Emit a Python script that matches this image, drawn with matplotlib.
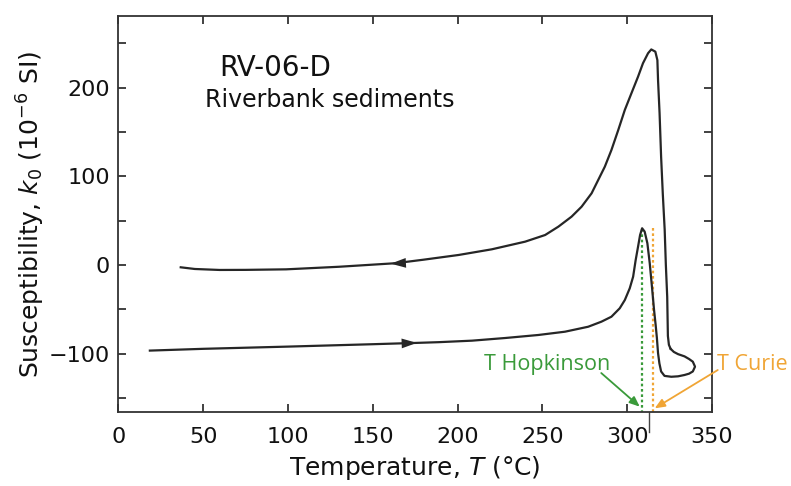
import matplotlib
matplotlib.use("Agg")
import matplotlib.pyplot as plt

# heating run (lower branch, ends after the loop on the right)
heat_T = [18.5, 50, 100, 150, 176, 188.9, 208.5, 228.1, 247.6, 263.3, 277, 284.8,
          290.7, 295.6, 298.6, 301.5, 303.5, 305.0, 306.4, 307.6, 308.8, 310.3,
          311.9, 313.3, 314.6, 315.8, 316.8, 317.5, 318.2, 319.0, 320.0, 322.0,
          326.0, 330.0, 333.8, 336.5, 338.7, 340.0, 338.7, 336.5, 333.8, 330.0,
          327.5, 325.6]
heat_k = [-96.5, -94.5, -92.0, -89.3, -87.8, -87.0, -85.3, -82.3, -78.9, -75.2, -69.6, -63.9,
          -58.3, -48.8, -39.5, -26.3, -13.2, 5.6, 20.6, 33.8, 41.4, 37.6,
          24.5, 1.9, -24.5, -50, -68, -82, -99.5, -111, -120, -125,
          -126, -125.5, -124, -122.5, -120, -114.6, -109, -106, -103, -100.5,
          -98, -94.5]

# cooling run (upper branch)
cool_T = [325.6, 324.6, 324.0, 323.6, 322.8, 322.1, 321.0, 320.0, 319.1, 318.2, 317.8,
          316.6, 314.2, 312.3, 309.3, 306.4, 302.5, 298.6, 294.7, 290.7, 286.8,
          282.9, 279.0, 273.1, 267.2, 259.4, 251.6, 239.8, 220.2, 200.6, 180,
          163.4, 130, 98.8, 75, 59.6, 45, 36.7]
cool_k = [-94.5, -90, -80, -36, 0, 40, 80, 122, 171, 208, 231,
          240.5, 243, 238.7, 227.4, 212.3, 193.6, 174.8, 152, 129.6, 110.8,
          95.8, 80.8, 65.7, 54.5, 43.2, 33.8, 26.3, 17.7, 11.3, 6,
          2, -2, -4.9, -5.5, -5.6, -4.5, -2.6]

x_ticks = [0, 50, 100, 150, 200, 250, 300, 350]
y_major = [-100, 0, 100, 200]
y_minor = [-150, -50, 50, 150, 250]

T_hopkinson = 308.8
T_curie = 315.0

green = '#3a9a3a'
orange = '#f0a535'
ink = '#262626'

fig = plt.figure(figsize=(7.91, 4.86), dpi=100)
ax = fig.add_axes([0.1498, 0.1523, 0.7503, 0.8148])

ax.plot(heat_T, heat_k, color=ink, lw=1.6, solid_joinstyle='round', zorder=3)
ax.plot(cool_T, cool_k, color=ink, lw=1.6, solid_joinstyle='round', zorder=3)

# direction arrows on the curves
ax.annotate('', xy=(176, -87.8), xytext=(160, -88.9),
            arrowprops=dict(arrowstyle='-|>,head_length=1.0,head_width=0.32',
                            mutation_scale=11, color=ink, lw=0,
                            shrinkA=0, shrinkB=0), zorder=4)
ax.annotate('', xy=(160.5, 1.5), xytext=(176, 3.0),
            arrowprops=dict(arrowstyle='-|>,head_length=1.0,head_width=0.32',
                            mutation_scale=11, color=ink, lw=0,
                            shrinkA=0, shrinkB=0), zorder=4)

# Hopkinson / Curie markers
ax.plot([T_hopkinson, T_hopkinson], [41, -170], color=green, lw=1.6,
        linestyle=(0, (1.2, 1.2)), zorder=2)
ax.plot([T_curie, T_curie], [42, -170], color=orange, lw=1.6,
        linestyle=(0, (1.2, 1.2)), zorder=2)

ax.text(252.5, -112, 'T Hopkinson', color=green, fontsize=15.5,
        family=['Open Sans', 'DejaVu Sans'], ha='center', va='center')
ax.annotate('', xy=(307.4, -159.7), xytext=(284.7, -121.8),
            arrowprops=dict(arrowstyle='-|>,head_length=0.6,head_width=0.25',
                            mutation_scale=10, color=green, lw=1.3,
                            shrinkA=0, shrinkB=0))
ax.text(373.5, -112, 'T Curie', color=orange, fontsize=15.5,
        family=['Open Sans', 'DejaVu Sans'], ha='center', va='center',
        clip_on=False)
ax.annotate('', xy=(316.2, -161.6), xytext=(353.4, -118.4),
            arrowprops=dict(arrowstyle='-|>,head_length=0.6,head_width=0.25',
                            mutation_scale=10, color=orange, lw=1.3,
                            shrinkA=0, shrinkB=0), annotation_clip=False)

# small stray mark under the axis
ax.plot([313, 313], [-165.7, -188], color='#444444', lw=1.0, clip_on=False)

ax.text(59.6, 222, 'RV-06-D', fontsize=20, color='#111111', ha='left', va='center')
ax.text(50.8, 186, 'Riverbank sediments', fontsize=17, color='#111111',
        ha='left', va='center')

ax.set_xlim(0, 350)
ax.set_ylim(-165.7, 280.7)
ax.set_xticks(x_ticks)
ax.set_yticks(y_major)
ax.set_yticks(y_minor, minor=True)
ax.tick_params(which='both', direction='in', length=6, width=1.3, color='#333333',
               top=True, right=True, labelsize=16, labelcolor='#111111')
ax.tick_params(axis='x', pad=11)
ax.tick_params(axis='y', pad=6)

for s in ax.spines.values():
    s.set_linewidth(1.3)
    s.set_color('#333333')

ax.set_xlabel('Temperature, $T$ (°C)', fontsize=18, color='#111111', labelpad=5)
ax.set_ylabel('Susceptibility, $k_0$ (10$^{-6}$ SI)', fontsize=18,
              color='#111111')
ax.yaxis.set_label_coords(-0.12, 0.5)

fig.savefig('out.png', dpi=100)
